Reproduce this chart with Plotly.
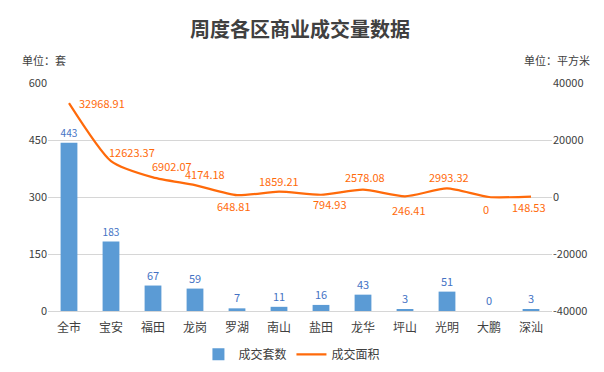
import plotly.graph_objects as go

categories = ["全市", "宝安", "福田", "龙岗", "罗湖", "南山", "盐田", "龙华", "坪山", "光明", "大鹏", "深汕"]
units_sold = [443, 183, 67, 59, 7, 11, 16, 43, 3, 51, 0, 3]
area_sold = [32968.91, 12623.37, 6902.07, 4174.18, 648.81, 1859.21, 794.93, 2578.08, 246.41, 2993.32, 0, 148.53]
area_labels = ["32968.91", "12623.37", "6902.07", "4174.18", "648.81", "1859.21", "794.93", "2578.08", "246.41", "2993.32", "0", "148.53"]
# label offsets in pixels (x, y-up) relative to each point
label_dx = [33, 21, 19, 10, -3, 0, 9, 2, 4, 2, -3, -2]
label_dy = [0, 9, 11, 11, -11, 11, -9, 13, -14, 11, -12, -10]
left_ticks = [0, 150, 300, 450, 600]
right_ticks = [-40000, -20000, 0, 20000, 40000]
right_tick_text = ["-40000", "-20000", "0", "20000", "40000"]

FONT = "Noto Sans CJK SC"
BLUE = "#5B9BD5"
ORANGE = "#FF6A0A"

fig = go.Figure()
fig.add_trace(go.Bar(
    x=categories, y=units_sold, name="成交套数",
    marker=dict(color=BLUE, line=dict(width=0)),
    width=0.4,
    text=[str(v) for v in units_sold], textposition="outside",
    textfont=dict(color="#4472C4", size=11, family=FONT),
    cliponaxis=False,
))
fig.add_trace(go.Scatter(
    x=categories, y=area_sold, name="成交面积", yaxis="y2",
    mode="lines",
    line=dict(color=ORANGE, width=2.2, shape="spline", smoothing=0.6),
    cliponaxis=False,
))
for c, v, t, dx, dy in zip(categories, area_sold, area_labels, label_dx, label_dy):
    fig.add_annotation(x=c, y=v, xref="x", yref="y2", text=t, showarrow=False,
                       xanchor="center", yanchor="middle", xshift=dx, yshift=dy,
                       font=dict(color=ORANGE, size=11, family=FONT))

# the page body adds an 8px offset; the figure is sized to fill the rest of the window
fig.update_layout(
    width=596, height=364,
    margin=dict(l=40, r=52, t=75, b=61, autoexpand=False),
    paper_bgcolor="white", plot_bgcolor="white",
    font=dict(family=FONT, size=11, color="#595959"),
    title=dict(text="<b>周度各区商业成交量数据</b>", x=0.49, xanchor="center", y=0.94, yanchor="middle",
               yref="container", font=dict(size=20, color="#404040", family=FONT)),
    xaxis=dict(showgrid=False, showline=False, ticks="", tickfont=dict(size=12, color="#404040"),
               ticklabelstandoff=8, automargin=False),
    yaxis=dict(range=[0, 600], tickvals=left_ticks, showgrid=True, gridcolor="#D6D6D6", gridwidth=1,
               zeroline=True, zerolinecolor="#D6D6D6", zerolinewidth=1, showline=False,
               tickfont=dict(size=11, color="#404040"), ticks="", automargin=False),
    yaxis2=dict(range=[-40000, 40000], tickvals=right_ticks, ticktext=right_tick_text,
                overlaying="y", side="right",
                showgrid=False, zeroline=False, showline=False,
                tickfont=dict(size=11, color="#404040"), ticks="", automargin=False),
    legend=dict(orientation="h", x=0.484, xanchor="center", y=-0.19, yanchor="middle",
                font=dict(size=12, color="#404040"), bgcolor="rgba(0,0,0,0)"),
    bargap=0.6,
    showlegend=True,
)
fig.add_annotation(text="单位：套", xref="paper", yref="paper", x=-0.055, y=1.10, xanchor="left", yanchor="middle",
                   showarrow=False, font=dict(size=11, color="#404040", family=FONT))
fig.add_annotation(text="单位：平方米", xref="paper", yref="paper", x=1.08, y=1.10, xanchor="right", yanchor="middle",
                   showarrow=False, font=dict(size=11, color="#404040", family=FONT))

fig.write_html("out.html")
